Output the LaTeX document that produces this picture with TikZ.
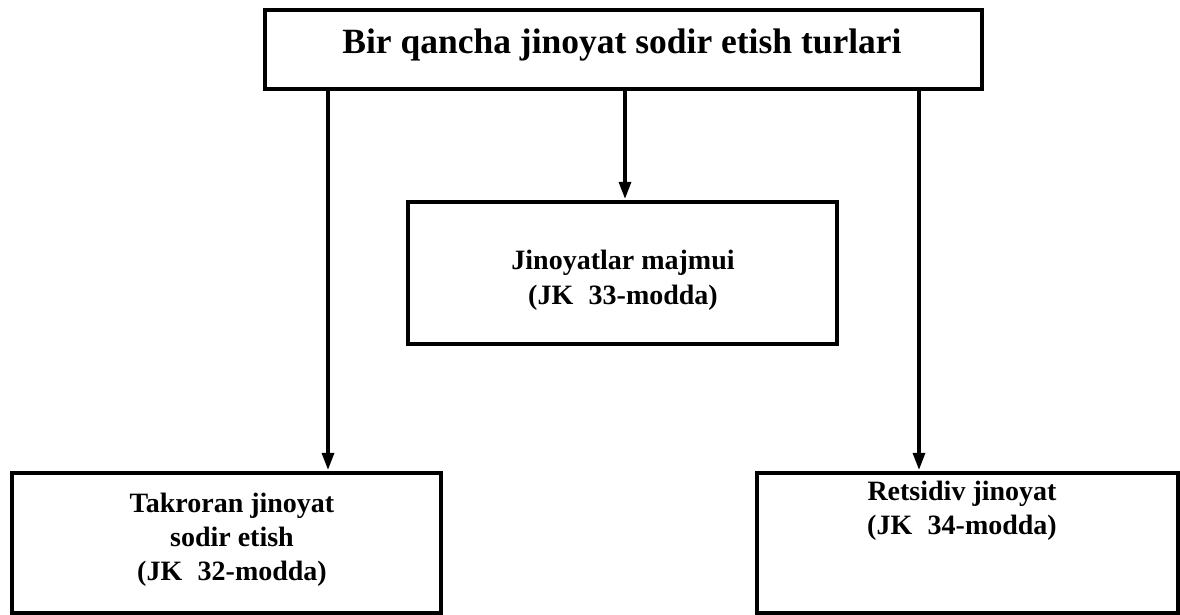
\documentclass[tikz,border=0pt]{standalone}
\usepackage{fontspec}
\setmainfont{Liberation Serif}
\usetikzlibrary{arrows.meta}
\tikzset{
  box/.style={draw=black, line width=4.2pt, fill=none, inner sep=0pt},
  lbl/.style={align=center, inner sep=0pt},
  conn/.style={line width=3.2pt, -{Triangle[length=17pt,width=12pt]}, shorten >=1pt}
}
\begin{document}
\begin{tikzpicture}[x=1pt,y=-1pt]
\useasboundingbox (0,0) rectangle (1180,615);
% boxes
\node[box, minimum width=717pt, minimum height=79pt] (top) at (623.5,49.5) {};
\node[box, minimum width=429pt, minimum height=142pt] (mid) at (622.5,273) {};
\node[box, minimum width=429pt, minimum height=140pt] (left) at (226.5,543) {};
\node[box, minimum width=421pt, minimum height=140pt] (right) at (967.5,543) {};
% texts
\node[lbl, font=\fontsize{35.5}{40}\bfseries] (ttop) at (622,45) {Bir qancha jinoyat sodir etish turlari};
\node[lbl, font=\fontsize{28}{35}\bfseries] (tmid) at (623,280) {Jinoyatlar majmui\\(JK\hspace{0.55em}33-modda)};
\node[lbl, font=\fontsize{28}{34}\bfseries] (tleft) at (232,540) {Takroran jinoyat\\sodir etish\\(JK\hspace{0.55em}32-modda)};
\node[lbl, font=\fontsize{28}{34}\bfseries] (tright) at (962,511) {Retsidiv jinoyat\\(JK\hspace{0.55em}34-modda)};
% connectors
\coordinate (a1) at (328,0);
\coordinate (a2) at (625,0);
\coordinate (a3) at (919,0);
\draw[conn] (a1 |- top.south) -- (a1 |- left.north);
\draw[conn] (a2 |- top.south) -- (a2 |- mid.north);
\draw[conn] (a3 |- top.south) -- (a3 |- right.north);
\end{tikzpicture}
\end{document}
